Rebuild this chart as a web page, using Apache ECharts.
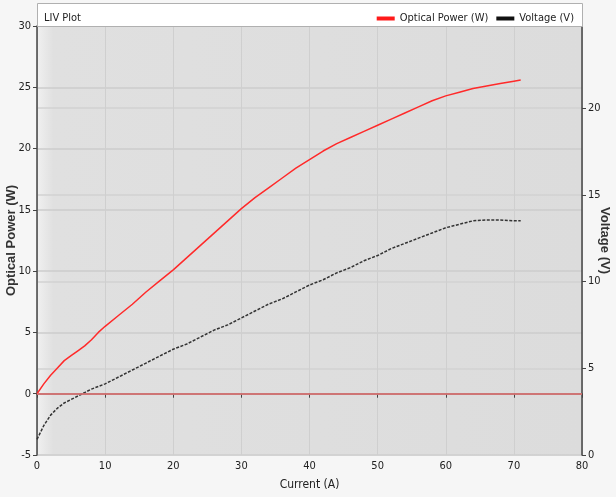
<!DOCTYPE html>
<html><head><meta charset="utf-8">
<script src="https://cdn.jsdelivr.net/npm/echarts@6/dist/echarts.min.js"></script>
<style>html,body{margin:0;padding:0;background:#f6f6f6}#c{width:616px;height:497px}</style>
</head><body><div id="c"></div>
<script>
const current = [0,1,2,3,4,5,6,7,8,9,10,12,14,16,18,20,22,24,26,28,30,32,34,36,38,40,42,44,46,48,50,52,54,56,58,60,62,64,66,68,70,71];
const opticalPower = [0,0.8,1.5,2.1,2.7,3.1,3.5,3.9,4.4,5.0,5.5,6.4,7.3,8.3,9.2,10.1,11.1,12.1,13.1,14.1,15.1,16.0,16.8,17.6,18.4,19.1,19.8,20.4,20.9,21.4,21.9,22.4,22.9,23.4,23.9,24.3,24.6,24.9,25.1,25.3,25.5,25.6];
const voltage = [0.9,1.7,2.3,2.7,3.0,3.2,3.4,3.6,3.8,3.95,4.1,4.5,4.9,5.3,5.7,6.1,6.4,6.8,7.2,7.5,7.9,8.3,8.7,9.0,9.4,9.8,10.1,10.5,10.8,11.2,11.5,11.9,12.2,12.5,12.8,13.1,13.3,13.5,13.55,13.55,13.5,13.5];
const seriesNames = ['Optical Power (W)', 'Voltage (V)'];
const chartTitle = 'LIV Plot';

const font = "'DejaVu Sans Condensed','Liberation Sans Narrow',sans-serif";
const chart = echarts.init(document.getElementById('c'));
chart.setOption({
  animation: false,
  backgroundColor: '#f6f6f6',
  graphic: [
    { type: 'rect', left: 37, top: 3, z: 5, silent: true,
      shape: { width: 545, height: 23 },
      style: { fill: '#ffffff', stroke: '#b0b0b0', lineWidth: 1 } }
  ],
  title: { text: chartTitle, left: 39, top: 8, z: 6,
    textStyle: { fontFamily: font, fontSize: 11, fontWeight: 'normal', color: '#222' } },
  legend: { right: 37, top: 8, z: 6, itemWidth: 18, itemHeight: 4, itemGap: 8,
    icon: 'rect',
    textStyle: { fontFamily: font, fontSize: 11, color: '#222' },
    data: [ { name: seriesNames[0], itemStyle: { color: '#ff1a1a' } },
            { name: seriesNames[1], itemStyle: { color: '#111' } } ] },
  grid: { left: 37, right: 34, top: 26, bottom: 42, show: true,
    containLabel: false, outerBoundsMode: 'none',
    borderWidth: 0,
    backgroundColor: { type: 'linear', x: 0, y: 0, x2: 1, y2: 0,
      colorStops: [ { offset: 0, color: '#f0f0f0' }, { offset: 0.03, color: '#e0e0e0' }, { offset: 1, color: '#dcdcdc' } ] } },
  xAxis: { type: 'value', min: 0, max: 80, interval: 10,
    name: 'Current (A)', nameLocation: 'middle', nameGap: 24, nameMoveOverlap: false,
    nameTextStyle: { fontFamily: font, fontSize: 12, color: '#222' },
    axisLine: { lineStyle: { color: '#444', width: 1.5 } },
    axisTick: { show: true, length: 4, lineStyle: { color: '#444' } },
    axisLabel: { fontFamily: font, fontSize: 11, color: '#222', margin: 6 },
    splitLine: { show: true, lineStyle: { color: '#cfcfcf', width: 1 } } },
  yAxis: [
    { type: 'value', min: -5, max: 30, interval: 5,
      name: 'Optical Power (W)', nameLocation: 'middle', nameGap: 19, nameMoveOverlap: false,
      nameTextStyle: { fontFamily: "'Liberation Sans',Arial,sans-serif", fontSize: 13, fontWeight: 'bold', color: '#333' },
      axisLine: { show: true, lineStyle: { color: '#444', width: 1.5 } },
      axisTick: { show: true, length: 4, lineStyle: { color: '#444' } },
      axisLabel: { fontFamily: font, fontSize: 11, color: '#222', margin: 6 },
      splitLine: { show: true, lineStyle: { color: '#cccccc', width: 1.5 } } },
    { type: 'value', min: 0, max: 24.73, interval: 5,
      name: 'Voltage (V)', nameLocation: 'middle', nameGap: 16, nameRotate: -90, nameMoveOverlap: false,
      nameTextStyle: { fontFamily: "'Liberation Sans',Arial,sans-serif", fontSize: 13, fontWeight: 'bold', color: '#333' },
      axisLine: { show: true, lineStyle: { color: '#444', width: 1.5 } },
      axisTick: { show: true, length: 4, lineStyle: { color: '#444' } },
      axisLabel: { fontFamily: font, fontSize: 11, color: '#222', margin: 6, showMaxLabel: false },
      splitLine: { show: true, lineStyle: { color: '#d2d2d2', width: 1.5 } } }
  ],
  series: [
    { name: seriesNames[0], type: 'line', yAxisIndex: 0, showSymbol: false, smooth: false,
      data: current.map((c, i) => [c, opticalPower[i]]),
      lineStyle: { color: '#ff2a2a', width: 1.5 }, itemStyle: { color: '#ff1a1a' },
      markLine: { silent: true, symbol: 'none', label: { show: false },
        lineStyle: { color: '#f07a7a', width: 1.5, type: 'solid' },
        data: [ { yAxis: 0 } ] } },
    { name: seriesNames[1], type: 'line', yAxisIndex: 1, showSymbol: false, smooth: false,
      data: current.map((c, i) => [c, voltage[i]]),
      lineStyle: { color: '#333', width: 1.5, type: [3, 1.5] }, itemStyle: { color: '#111' } }
  ]
});
</script></body></html>
